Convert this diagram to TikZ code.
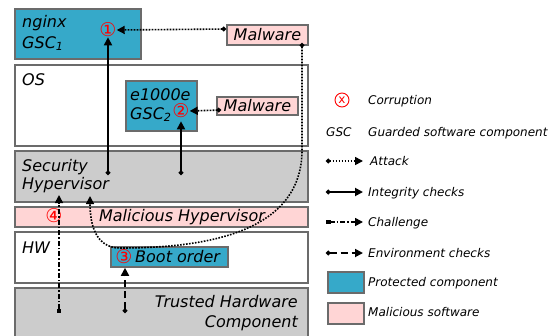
\documentclass[tikz,border=0pt]{standalone}
\usepackage{fontspec}
\setmainfont{DejaVu Sans}
\usetikzlibrary{arrows.meta}
\definecolor{prot}{HTML}{36A9C9}
\definecolor{mal}{HTML}{FFD5D5}
\definecolor{hyp}{HTML}{CCCCCC}
\definecolor{edge}{HTML}{6B6B6B}
\tikzset{
  box/.style={draw=edge, line width=1.8pt, inner sep=0pt, anchor=north west},
  big/.style={font=\fontsize{16}{19}\selectfont\itshape, inner sep=0pt},
  small/.style={font=\fontsize{12}{14}\selectfont\itshape, inner sep=0pt, anchor=base west},
  num/.style={font=\fontsize{19}{22}\selectfont, text=red, inner sep=0pt},
  attack/.style={line width=1.6pt, dash pattern=on 1.6pt off 1.4pt, {Circle[length=4.5pt]}-{Triangle[length=8pt,width=8pt]}},
  integrity/.style={line width=1.8pt, {Circle[length=4.5pt]}-{Triangle[length=8pt,width=8pt]}},
  challenge/.style={line width=1.6pt, dash pattern=on 5pt off 2pt on 1.6pt off 2pt, {Square[length=4.5pt]}-{Triangle[length=8pt,width=8pt]}},
  environ/.style={line width=1.8pt, dash pattern=on 7pt off 4pt, {Circle[length=4.5pt]}-{Triangle[length=8pt,width=8pt]}},
}
\begin{document}
\begin{tikzpicture}[x=1pt,y=-1pt]
\useasboundingbox (0,0) rectangle (556,335);
% layers
\node [box, fill=prot, minimum width=126, minimum height=50] (nginx) at (14,8) {};
\node [box, fill=mal, minimum width=81, minimum height=20] (mw1) at (226,24) {};
\node [box, fill=white, minimum width=293, minimum height=81] (os) at (14,64) {};
\node [box, fill=prot, minimum width=71, minimum height=50] (e1000) at (125,80) {};
\node [box, fill=mal, minimum width=81, minimum height=18] (mw2) at (216,96) {};
\node [box, fill=hyp, minimum width=293, minimum height=51] (sec) at (14,150) {};
\node [box, fill=mal, minimum width=293, minimum height=20] (malhyp) at (14,206) {};
\node [box, fill=white, minimum width=293, minimum height=51] (hw) at (14,231) {};
\node [box, fill=prot, minimum width=117, minimum height=20] (boot) at (110,246) {};
\node [box, fill=hyp, minimum width=293, minimum height=60] (thc) at (14,287) {};
% texts
\node [big, anchor=base west] (tnginx) at (22,27) {nginx};
\node [big, anchor=base west] (tgsc1) at (22,48) {GSC\textsubscript{1}};
\node [big] (tmw1) at (mw1.center) {Malware};
\node [big, anchor=base west] (tos) at (22,85) {OS};
\node [big, anchor=base west] (te1000) at (130,100) {e1000e};
\node [big, anchor=base west] (tgsc2) at (130,119) {GSC\textsubscript{2}};
\node [big] (tmw2) at (mw2.center) {Malware};
\node [big, anchor=base west] (tsec1) at (22,171) {Security};
\node [big, anchor=base west] (tsec2) at (22,189) {Hypervisor};
\node [big, anchor=base] (tmalhyp) at (182,221) {Malicious Hypervisor};
\node [big, anchor=base west] (thw) at (22,253) {HW};
\node [big, anchor=base west] (tboot) at (135,262) {Boot order};
\node [big, anchor=base east] (tthc1) at (298,307) {Trusted Hardware};
\node [big, anchor=base east] (tthc2) at (298,327) {Component};
% corruptions
\node [num] (c1) at (108,30) {①};
\node [num] (c2) at (181,111) {②};
\node [num] (c3) at (124,257) {③};
\node [num] (c4) at (54,216) {④};
% connectors
\coordinate (a1) at (226,29);
\coordinate (a2) at (221,110);
\coordinate (a3) at (302,43);
\coordinate (a3t) at (90,196);
\coordinate (i1) at (108,175);
\coordinate (i2) at (181,175);
\coordinate (ch) at (59,313);
\coordinate (cht) at (59,195);
\coordinate (en) at (125,313);
\draw [attack] (a1) -- (c1.east);
\draw [attack] (a2) -- (c2.east);
\draw [attack] (a3) -- (302,150) .. controls (302,235) and (200,248) .. (120,248) .. controls (96,248) and (90,225) .. (a3t);
\draw [integrity] (i1) -- (c1.south);
\draw [integrity] (i2) -- ([yshift=-3pt]c2.south);
\draw [challenge] (ch) -- (cht);
\draw [environ] (en) -- (boot.south -| en);
% legend
\node [circle, draw=red, line width=0.9pt, minimum size=14pt, inner sep=0pt, text=red, font=\fontsize{12}{14}\selectfont] (lx) at (342,100) {x};
\node [small] (lcor) at (368,104) {Corruption};
\node [small] (lgsc) at (326,136) {GSC};
\node [small] (lgscl) at (368,136) {Guarded software component};
\coordinate (l1) at (326,161);
\coordinate (l2) at (326,192);
\coordinate (l3) at (326,222);
\coordinate (l4) at (326,253);
\node [small] (latt) at (370,165) {Attack};
\node [small] (lint) at (368,196) {Integrity checks};
\node [small] (lch) at (368,226) {Challenge};
\node [small] (lenv) at (368,257) {Environment checks};
\draw [attack] (l1) -- ++(37,0);
\draw [integrity] (l2) -- ++(37,0);
\draw [challenge] (l3) -- ++(37,0);
\draw [environ] (l4) -- ++(37,0);
\node [box, fill=prot, minimum width=36, minimum height=21] (lprot) at (327,271) {};
\node [box, fill=mal, minimum width=36, minimum height=21] (lmal) at (327,302) {};
\node [small] (lprotl) at (368,286) {Protected component};
\node [small] (lmall) at (368,316) {Malicious software};
\end{tikzpicture}
\end{document}
